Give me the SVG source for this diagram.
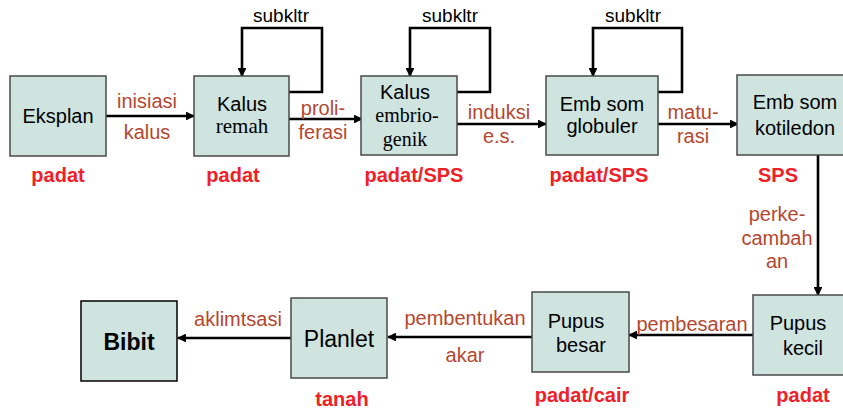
<svg xmlns="http://www.w3.org/2000/svg" width="843" height="413" viewBox="0 0 843 413">
<defs>
<marker id="ah" viewBox="0 0 10 10" refX="9" refY="5" markerWidth="3.4" markerHeight="3.4" orient="auto" markerUnits="strokeWidth">
<path d="M0,0 L10,5 L0,10 z" fill="#000"/>
</marker>
<style>
.box{fill:#cfe4de;stroke:#4a4a4a;stroke-width:1.5}
.t{font-family:"Liberation Sans",Arial,sans-serif;font-size:20px;fill:#000;text-anchor:middle}
.s{font-family:"Liberation Serif","Times New Roman",serif;font-size:20px;fill:#000;text-anchor:middle}
.lb{font-family:"Liberation Sans",Arial,sans-serif;font-size:20px;fill:#b5472f;text-anchor:middle}
.rd{font-family:"Liberation Sans",Arial,sans-serif;font-size:20px;font-weight:bold;fill:#f02028;text-anchor:middle}
.sk{font-family:"Liberation Sans",Arial,sans-serif;font-size:19px;fill:#000;text-anchor:middle}
.c{fill:none;stroke:#000;stroke-width:2.6;marker-end:url(#ah)}
</style>
</defs>
<rect width="843" height="413" fill="#fff"/>
<g id="connectors">
<path class="c" d="M106,116 H194"/>
<path class="c" d="M289,119 H362"/>
<path class="c" d="M457,124 H546"/>
<path class="c" d="M658,124 H738"/>
<path class="c" d="M818,155 V295"/>
<path class="c" d="M753,335 H629"/>
<path class="c" d="M532,337 H388"/>
<path class="c" d="M291,338 H178"/>
<path class="c" d="M289,92 H322 V28 H242 V76"/>
<path class="c" d="M457,92 H490 V28 H410 V76"/>
<path class="c" d="M658,92 H682 V28 H593 V76"/>
<text class="sk" x="281" y="22">subkltr</text>
<text class="sk" x="450" y="22">subkltr</text>
<text class="sk" x="633" y="22">subkltr</text>
<text class="lb" x="147" y="108">inisiasi</text>
<text class="lb" x="147" y="139">kalus</text>
<text class="lb" x="323" y="115">proli-</text>
<text class="lb" x="323" y="139">ferasi</text>
<text class="lb" x="499" y="119">induksi</text>
<text class="lb" x="499" y="143">e.s.</text>
<text class="lb" x="693" y="119">matu-</text>
<text class="lb" x="693" y="143">rasi</text>
<text class="lb" x="777" y="221">perke-</text>
<text class="lb" x="777" y="245">cambah</text>
<text class="lb" x="777" y="268">an</text>
<text class="lb" x="692" y="331">pembesaran</text>
<text class="lb" x="465" y="325">pembentukan</text>
<text class="lb" x="465" y="362">akar</text>
<text class="lb" x="238" y="326">aklimtsasi</text>
</g>
<g id="eksplan">
<rect class="box" x="10" y="76" width="96" height="80"/>
<text class="t" x="58" y="123">Eksplan</text>
<text class="rd" x="58" y="182">padat</text>
</g>
<g id="kalus-remah">
<rect class="box" x="194" y="76" width="95" height="80"/>
<text class="t" x="242" y="111">Kalus</text>
<text class="s" x="242" y="133" style="font-size:21px">remah</text>
<text class="rd" x="233" y="182">padat</text>
</g>
<g id="kalus-embriogenik">
<rect class="box" x="361" y="76" width="96" height="79"/>
<text class="t" x="405" y="99">Kalus</text>
<text class="s" x="407" y="122">embrio-</text>
<text class="s" x="405" y="146">genik</text>
<text class="rd" x="414" y="182">padat/SPS</text>
</g>
<g id="emb-globuler">
<rect class="box" x="546" y="76" width="112" height="79"/>
<text class="t" x="602" y="111">Emb som</text>
<text class="t" x="602" y="133">globuler</text>
<text class="rd" x="599" y="182">padat/SPS</text>
</g>
<g id="emb-kotiledon">
<rect class="box" x="737" y="75" width="110" height="80"/>
<text class="t" x="795" y="109">Emb som</text>
<text class="t" x="795" y="135">kotiledon</text>
<text class="rd" x="778" y="182">SPS</text>
</g>
<g id="pupus-kecil">
<rect class="box" x="753" y="295" width="95" height="80"/>
<text class="t" x="798" y="330">Pupus</text>
<text class="t" x="803" y="355">kecil</text>
<text class="rd" x="803" y="402">padat</text>
</g>
<g id="pupus-besar">
<rect class="box" x="532" y="292" width="97" height="80"/>
<text class="t" x="576" y="328">Pupus</text>
<text class="t" x="581" y="352">besar</text>
<text class="rd" x="582" y="402">padat/cair</text>
</g>
<g id="planlet">
<rect class="box" x="291" y="298" width="96" height="80"/>
<text class="t" x="339" y="347" style="font-size:23px">Planlet</text>
<text class="rd" x="342" y="406">tanah</text>
</g>
<g id="bibit">
<rect x="81" y="301" width="96" height="80" fill="#cfe4de" stroke="#000" stroke-width="1.5"/>
<text class="t" x="129" y="350" style="font-size:23px;font-weight:bold">Bibit</text>
</g>
</svg>
